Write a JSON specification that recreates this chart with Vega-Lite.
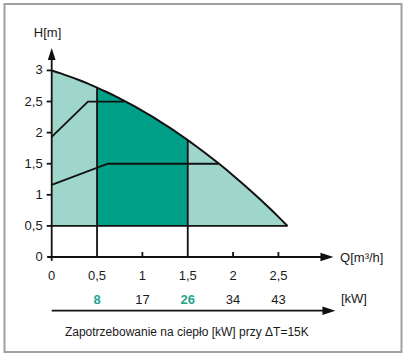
{
  "$schema": "https://vega.github.io/schema/vega-lite/v6.json",
  "width": 397,
  "height": 348,
  "padding": {"left": 4.5, "top": 4, "right": 3.5, "bottom": 5},
  "autosize": "none",
  "background": "white",
  "config": {
    "view": {"stroke": "#a0a0a0", "strokeWidth": 2},
    "text": {"font": "Liberation Sans", "fontSize": 13, "color": "#1a1a1a"}
  },
  "datasets": {
    "curve": [
      {"q": 0, "h": 3}, {"q": 0.1, "h": 2.953}, {"q": 0.2, "h": 2.901}, {"q": 0.3, "h": 2.846},
      {"q": 0.4, "h": 2.787}, {"q": 0.5, "h": 2.724}, {"q": 0.6, "h": 2.657}, {"q": 0.7, "h": 2.587},
      {"q": 0.8, "h": 2.512}, {"q": 0.9, "h": 2.434}, {"q": 1.0, "h": 2.351}, {"q": 1.1, "h": 2.265},
      {"q": 1.2, "h": 2.174}, {"q": 1.3, "h": 2.08}, {"q": 1.4, "h": 1.982}, {"q": 1.5, "h": 1.88},
      {"q": 1.6, "h": 1.774}, {"q": 1.7, "h": 1.665}, {"q": 1.8, "h": 1.551}, {"q": 1.9, "h": 1.434},
      {"q": 2.0, "h": 1.312}, {"q": 2.1, "h": 1.187}, {"q": 2.2, "h": 1.057}, {"q": 2.3, "h": 0.924},
      {"q": 2.4, "h": 0.787}, {"q": 2.5, "h": 0.646}, {"q": 2.6, "h": 0.5}
    ],
    "segs": [
      {"x": 0, "y": 0.5, "x2": 2.6, "y2": 0.5},
      {"x": 0.5, "y": 0, "x2": 0.5, "y2": 2.724},
      {"x": 1.5, "y": 0, "x2": 1.5, "y2": 1.88},
      {"x": 0, "y": -0.06, "x2": 0, "y2": 3.28},
      {"x": -0.05, "y": 0, "x2": 3.0, "y2": 0},
      {"x": 0, "y": -0.863, "x2": 3.02, "y2": -0.863},
      {"x": -0.055, "y": 0.5, "x2": 0, "y2": 0.5},
      {"x": -0.055, "y": 1, "x2": 0, "y2": 1},
      {"x": -0.055, "y": 1.5, "x2": 0, "y2": 1.5},
      {"x": -0.055, "y": 2, "x2": 0, "y2": 2},
      {"x": -0.055, "y": 2.5, "x2": 0, "y2": 2.5},
      {"x": -0.055, "y": 3, "x2": 0, "y2": 3},
      {"x": 1, "y": 0, "x2": 1, "y2": 0.08},
      {"x": 2, "y": 0, "x2": 2, "y2": 0.08},
      {"x": 2.5, "y": 0, "x2": 2.5, "y2": 0.08}
    ],
    "polys": [
      {"s": "a", "i": 0, "q": 0, "h": 1.93},
      {"s": "a", "i": 1, "q": 0.4, "h": 2.5},
      {"s": "a", "i": 2, "q": 0.8, "h": 2.5},
      {"s": "b", "i": 0, "q": 0, "h": 1.16},
      {"s": "b", "i": 1, "q": 0.62, "h": 1.5},
      {"s": "b", "i": 2, "q": 1.84, "h": 1.5}
    ],
    "ylabels": [
      {"v": 0, "t": "0"}, {"v": 0.5, "t": "0,5"}, {"v": 1, "t": "1"}, {"v": 1.5, "t": "1,5"},
      {"v": 2, "t": "2"}, {"v": 2.5, "t": "2,5"}, {"v": 3, "t": "3"}
    ],
    "xlabels": [
      {"v": 0, "t": "0"}, {"v": 0.5, "t": "0,5"}, {"v": 1, "t": "1"}, {"v": 1.5, "t": "1,5"},
      {"v": 2, "t": "2"}, {"v": 2.5, "t": "2,5"}
    ],
    "kw": [
      {"q": 0.5, "t": "8", "design": true},
      {"q": 1, "t": "17", "design": false},
      {"q": 1.5, "t": "26", "design": true},
      {"q": 2, "t": "34", "design": false},
      {"q": 2.5, "t": "43", "design": false}
    ]
  },
  "layer": [
    {
      "data": {"name": "curve"},
      "mark": {"type": "area", "color": "#9ed6cc", "opacity": 1},
      "encoding": {
        "x": {"field": "q", "type": "quantitative", "scale": {"domain": [-0.5204, 3.857], "nice": false, "zero": false}, "axis": null},
        "y": {"field": "h", "type": "quantitative", "scale": {"domain": [-1.527, 4.068], "nice": false, "zero": false}, "axis": null},
        "y2": {"datum": 0.5}
      }
    },
    {
      "data": {"name": "curve"},
      "transform": [{"filter": "datum.q >= 0.5 && datum.q <= 1.5"}],
      "mark": {"type": "area", "color": "#00a088", "opacity": 1},
      "encoding": {
        "x": {"field": "q", "type": "quantitative", "scale": {"domain": [-0.5204, 3.857], "nice": false, "zero": false}, "axis": null},
        "y": {"field": "h", "type": "quantitative", "scale": {"domain": [-1.527, 4.068], "nice": false, "zero": false}, "axis": null},
        "y2": {"datum": 0.5}
      }
    },
    {
      "data": {"name": "curve"},
      "mark": {"type": "line", "color": "#111", "strokeWidth": 2, "interpolate": "monotone"},
      "encoding": {
        "x": {"field": "q", "type": "quantitative", "scale": {"domain": [-0.5204, 3.857], "nice": false, "zero": false}, "axis": null},
        "y": {"field": "h", "type": "quantitative", "scale": {"domain": [-1.527, 4.068], "nice": false, "zero": false}, "axis": null}
      }
    },
    {
      "data": {"name": "polys"},
      "mark": {"type": "line", "color": "#111", "strokeWidth": 1.8},
      "encoding": {
        "x": {"field": "q", "type": "quantitative", "scale": {"domain": [-0.5204, 3.857], "nice": false, "zero": false}, "axis": null},
        "y": {"field": "h", "type": "quantitative", "scale": {"domain": [-1.527, 4.068], "nice": false, "zero": false}, "axis": null},
        "detail": {"field": "s"},
        "order": {"field": "i"}
      }
    },
    {
      "data": {"name": "segs"},
      "mark": {"type": "rule", "color": "#111", "strokeWidth": 1.8},
      "encoding": {
        "x": {"field": "x", "type": "quantitative", "scale": {"domain": [-0.5204, 3.857], "nice": false, "zero": false}, "axis": null},
        "y": {"field": "y", "type": "quantitative", "scale": {"domain": [-1.527, 4.068], "nice": false, "zero": false}, "axis": null},
        "x2": {"field": "x2"},
        "y2": {"field": "y2"}
      }
    },
    {
      "data": {"values": [{"x": 0, "y": 3.264}]},
      "mark": {"type": "point", "shape": "M0,-1L-0.65,1L0.65,1Z", "size": 144, "filled": true, "color": "#111", "opacity": 1},
      "encoding": {
        "x": {"field": "x", "type": "quantitative", "scale": {"domain": [-0.5204, 3.857], "nice": false, "zero": false}, "axis": null},
        "y": {"field": "y", "type": "quantitative", "scale": {"domain": [-1.527, 4.068], "nice": false, "zero": false}, "axis": null}
      }
    },
    {
      "data": {"values": [{"x": 3.035, "y": 0}, {"x": 3.057, "y": -0.863}]},
      "mark": {"type": "point", "shape": "M1,0L-1,-0.65L-1,0.65Z", "size": 169, "filled": true, "color": "#111", "opacity": 1},
      "encoding": {
        "x": {"field": "x", "type": "quantitative", "scale": {"domain": [-0.5204, 3.857], "nice": false, "zero": false}, "axis": null},
        "y": {"field": "y", "type": "quantitative", "scale": {"domain": [-1.527, 4.068], "nice": false, "zero": false}, "axis": null}
      }
    },
    {
      "data": {"name": "ylabels"},
      "mark": {"type": "text", "align": "right", "baseline": "middle"},
      "encoding": {
        "x": {"datum": -0.1, "type": "quantitative", "scale": {"domain": [-0.5204, 3.857], "nice": false, "zero": false}, "axis": null},
        "y": {"field": "v", "type": "quantitative", "scale": {"domain": [-1.527, 4.068], "nice": false, "zero": false}, "axis": null},
        "text": {"field": "t"}
      }
    },
    {
      "data": {"name": "xlabels"},
      "mark": {"type": "text", "align": "center", "baseline": "middle"},
      "encoding": {
        "x": {"field": "v", "type": "quantitative", "scale": {"domain": [-0.5204, 3.857], "nice": false, "zero": false}, "axis": null},
        "y": {"datum": -0.305, "type": "quantitative", "scale": {"domain": [-1.527, 4.068], "nice": false, "zero": false}, "axis": null},
        "text": {"field": "t"}
      }
    },
    {
      "data": {"name": "kw"},
      "transform": [{"filter": "!datum.design"}],
      "mark": {"type": "text", "align": "center", "baseline": "middle"},
      "encoding": {
        "x": {"field": "q", "type": "quantitative", "scale": {"domain": [-0.5204, 3.857], "nice": false, "zero": false}, "axis": null},
        "y": {"datum": -0.69, "type": "quantitative", "scale": {"domain": [-1.527, 4.068], "nice": false, "zero": false}, "axis": null},
        "text": {"field": "t"}
      }
    },
    {
      "data": {"name": "kw"},
      "transform": [{"filter": "datum.design"}],
      "mark": {"type": "text", "align": "center", "baseline": "middle", "fontWeight": "bold", "color": "#1fa58d"},
      "encoding": {
        "x": {"field": "q", "type": "quantitative", "scale": {"domain": [-0.5204, 3.857], "nice": false, "zero": false}, "axis": null},
        "y": {"datum": -0.69, "type": "quantitative", "scale": {"domain": [-1.527, 4.068], "nice": false, "zero": false}, "axis": null},
        "text": {"field": "t"}
      }
    },
    {
      "data": {"values": [
        {"x": -0.046, "y": 3.6, "t": "H[m]"},
        {"x": 3.333, "y": -0.675, "t": "[kW]"}
      ]},
      "mark": {"type": "text", "align": "center", "baseline": "middle"},
      "encoding": {
        "x": {"field": "x", "type": "quantitative", "scale": {"domain": [-0.5204, 3.857], "nice": false, "zero": false}, "axis": null},
        "y": {"field": "y", "type": "quantitative", "scale": {"domain": [-1.527, 4.068], "nice": false, "zero": false}, "axis": null},
        "text": {"field": "t"}
      }
    },
    {
      "data": {"values": [{"x": 1.49, "y": -1.2, "t": "Zapotrzebowanie na ciepło [kW] przy ΔT=15K"}]},
      "mark": {"type": "text", "align": "center", "baseline": "middle", "fontSize": 12},
      "encoding": {
        "x": {"field": "x", "type": "quantitative", "scale": {"domain": [-0.5204, 3.857], "nice": false, "zero": false}, "axis": null},
        "y": {"field": "y", "type": "quantitative", "scale": {"domain": [-1.527, 4.068], "nice": false, "zero": false}, "axis": null},
        "text": {"field": "t"}
      }
    },
    {
      "data": {"values": [{"x": 3.18, "y": -0.02, "t": "Q[m³/h]"}]},
      "mark": {"type": "text", "align": "left", "baseline": "middle"},
      "encoding": {
        "x": {"field": "x", "type": "quantitative", "scale": {"domain": [-0.5204, 3.857], "nice": false, "zero": false}, "axis": null},
        "y": {"field": "y", "type": "quantitative", "scale": {"domain": [-1.527, 4.068], "nice": false, "zero": false}, "axis": null},
        "text": {"field": "t"}
      }
    }
  ]
}
